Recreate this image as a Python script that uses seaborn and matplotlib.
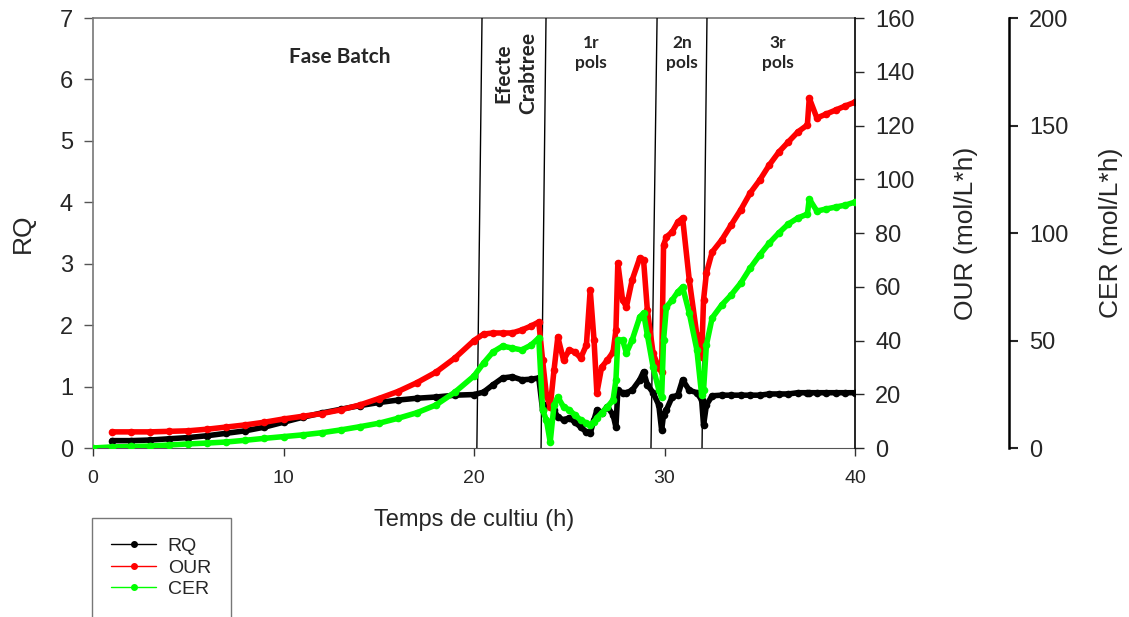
import numpy as np
import pandas as pd
import seaborn as sns
import matplotlib.pyplot as plt
from matplotlib.lines import Line2D

# time (h) and the three measured series
time_h = [0, 1, 2, 3, 4, 5, 6, 7, 8, 9, 10, 11, 12, 13, 14, 15, 16, 17, 18, 19, 20,
          20.5, 21, 21.5, 22, 22.5, 23, 23.4,
          23.6, 23.8, 24.0, 24.2, 24.4, 24.7, 25.0, 25.3, 25.6, 25.9,
          26.1, 26.3, 26.45, 26.7, 27.0, 27.3, 27.45, 27.55, 27.8, 28.0,
          28.3, 28.7, 28.9, 29.1, 29.4, 29.7, 29.85, 29.95, 30.1, 30.4,
          30.7, 30.95, 31.3, 31.7, 31.95, 32.05, 32.2, 32.5, 33.0, 33.5,
          34.0, 34.5, 35.0, 35.5, 36.0, 36.5, 37.0, 37.5, 37.6, 38.0,
          38.5, 39.0, 39.5, 40.0]

rq = [np.nan, 0.12, 0.12, 0.13, 0.15, 0.17, 0.20, 0.24, 0.28, 0.34, 0.42, 0.50, 0.57, 0.63, 0.69, 0.74, 0.78, 0.81, 0.83, 0.86, 0.87,
      0.91, 1.03, 1.14, 1.16, 1.11, 1.12, 1.14,
      0.62, 0.70, 0.73, 0.62, 0.50, 0.46, 0.49, 0.42, 0.34, 0.26,
      0.24, 0.46, 0.62, 0.57, 0.67, 0.54, 0.34, 0.94, 0.90, 0.90,
      0.94, 1.11, 1.24, 1.03, 0.90, 0.70, 0.29, 0.54, 0.62, 0.83,
      0.86, 1.11, 0.94, 0.90, 0.78, 0.37, 0.70, 0.85, 0.86, 0.86,
      0.86, 0.86, 0.86, 0.88, 0.88, 0.88, 0.90, 0.90, 0.90, 0.90,
      0.90, 0.90, 0.90, 0.90]

our = [np.nan, 6.0, 6.0, 6.0, 6.2, 6.4, 7.0, 7.8, 8.6, 9.6, 10.8, 11.8, 12.8, 14.2, 16.0, 18.4, 21.0, 24.3, 28.2, 33.5, 40.0,
       42.4, 42.8, 42.8, 42.8, 43.9, 45.4, 46.9,
       32.7, 19.7, 15.3, 29.0, 41.3, 32.7, 36.5, 35.7, 33.5, 38.3,
       58.8, 40.2, 20.5, 30.1, 32.7, 35.7, 43.9, 68.8, 55.1, 52.5,
       62.5, 70.7, 70.0, 51.3, 35.3, 29.8, 28.3, 75.5, 78.5, 80.4,
       84.1, 85.6, 62.5, 42.0, 33.9, 55.1, 65.1, 72.9, 77.4, 83.0,
       88.6, 94.9, 99.7, 105.3, 110.1, 113.9, 117.6, 120.2, 130.2, 122.8,
       124.3, 125.8, 127.3, 128.7]

cer = [0, 0.5, 0.7, 0.9, 1.4, 1.9, 2.3, 2.8, 3.6, 4.5, 5.3, 6.1, 7.1, 8.4, 9.9, 11.5, 13.8, 16.4, 20.0, 26.0, 33.5,
       39.5, 44.7, 47.4, 46.5, 45.6, 47.9, 51.2,
       17.7, 13.0, 2.8, 20.0, 23.7, 19.1, 17.7, 15.3, 13.0, 11.6,
       10.7, 12.1, 14.0, 16.3, 19.1, 22.3, 31.6, 50.2, 50.2, 44.2,
       50.2, 60.9, 62.8, 52.6, 37.7, 27.0, 23.7, 50.2, 65.6, 68.8,
       72.6, 74.9, 62.8, 45.6, 24.7, 27.0, 47.9, 60.5, 66.5, 71.2,
       76.7, 83.7, 89.8, 95.3, 100.0, 104.2, 107.0, 108.8, 115.8, 110.2,
       111.2, 112.1, 113.0, 114.4]

# phase boundaries (slightly slanted in the original), hours at bottom / top
phase_bottom = [20.15, 23.52, 29.29, 31.97]
phase_top = [20.42, 23.78, 29.61, 32.23]

phase_labels = ['Fase Batch', 'Efecte\nCrabtree', '1r\npols', '2n\npols', '3r\npols']
phase_label_x = [12.97, 22.2, 26.14, 30.92, 35.96]

df = pd.DataFrame({'t': time_h, 'RQ': rq, 'OUR': our, 'CER': cer})

sns.set_style('ticks')
plt.rcParams['font.family'] = ['Liberation Sans', 'DejaVu Sans']

fig = plt.figure(figsize=(11.29, 6.17), dpi=100)
ax = fig.add_axes([0.0824, 0.2739, 0.6749, 0.6969])
ax2 = ax.twinx()
ax3 = ax.twinx()

line_kw = dict(lw=4, marker='o', ms=5.5, markeredgewidth=0, errorbar=None, legend=False)
sns.lineplot(data=df, x='t', y='RQ', color='black', ax=ax, **line_kw)
sns.lineplot(data=df, x='t', y='OUR', color='#ff0000', ax=ax2, **line_kw)
sns.lineplot(data=df, x='t', y='CER', color='#00ff00', ax=ax3, **line_kw)

for b, t in zip(phase_bottom, phase_top):
    ax.plot([b, t], [0, 7], color='black', lw=1, zorder=5)

ax.set_xlim(0, 40)
ax.set_ylim(0, 7)
ax2.set_ylim(0, 160)
ax3.set_ylim(0, 200)
ax.set_xticks([0, 10, 20, 30, 40])
ax.set_yticks(range(0, 8))
ax2.set_yticks(range(0, 161, 20))
ax3.set_yticks(range(0, 201, 50))

ax.set_xlabel('Temps de cultiu (h)', fontsize=17, labelpad=16)
ax.set_ylabel('RQ', fontsize=19, labelpad=18)
ax2.set_ylabel('OUR (mol/L*h)', fontsize=19, labelpad=28)
ax3.set_ylabel('CER (mol/L*h)', fontsize=19, labelpad=22)

ax.tick_params(axis='x', direction='out', length=6, width=1, labelsize=14, pad=10, color='#333333')
ax.tick_params(axis='y', direction='out', length=6.5, width=1, labelsize=17, pad=8, color='#555555')
ax2.tick_params(axis='y', direction='out', length=6.5, width=1, labelsize=17, pad=8)
ax3.tick_params(axis='y', direction='out', length=6.5, width=1.5, labelsize=17, pad=8)

for name in ['left', 'top']:
    ax.spines[name].set_color('#777777')
    ax.spines[name].set_linewidth(1.2)
ax.spines['bottom'].set_color('#555555')
ax.spines['right'].set_visible(False)
for name in ['left', 'top', 'bottom']:
    ax2.spines[name].set_visible(False)
    ax3.spines[name].set_visible(False)
ax2.spines['right'].set_color('black')
ax2.spines['right'].set_linewidth(1.2)
ax3.spines['right'].set_position(('axes', 1.202))
ax3.spines['right'].set_color('black')
ax3.spines['right'].set_linewidth(1.8)

for i, (lab, x) in enumerate(zip(phase_labels, phase_label_x)):
    if i == 0:
        ax.text(x, 6.36, lab, ha='center', va='center', fontsize=15,
                fontweight='bold', family=['Lato', 'DejaVu Sans'])
    elif i == 1:
        ax.text(x, 6.1, lab, ha='center', va='center', rotation=90, fontsize=15,
                fontweight='bold', linespacing=1.3, multialignment='center',
                family=['Lato', 'DejaVu Sans'])
    else:
        ax.text(x, 6.43, lab, ha='center', va='center', fontsize=12.5,
                fontweight='bold', linespacing=1.3, multialignment='center',
                family=['Lato', 'DejaVu Sans'])

handles = [
    Line2D([], [], color='black', lw=1, marker='o', ms=4),
    Line2D([], [], color='#ff0000', lw=1, marker='o', ms=4),
    Line2D([], [], color='#00ff00', lw=1, marker='o', ms=4),
]
leg = fig.legend(handles, ['RQ', 'OUR', 'CER'], loc='upper left',
                 bbox_to_anchor=(92 / 1129, 1 - 518 / 617), fontsize=14,
                 frameon=True, fancybox=False, edgecolor='#555555',
                 borderpad=1.0, handlelength=2.3, handletextpad=0.6,
                 labelspacing=0.2, borderaxespad=0)
leg.get_frame().set_linewidth(1)

fig.savefig('out.png', dpi=100)
